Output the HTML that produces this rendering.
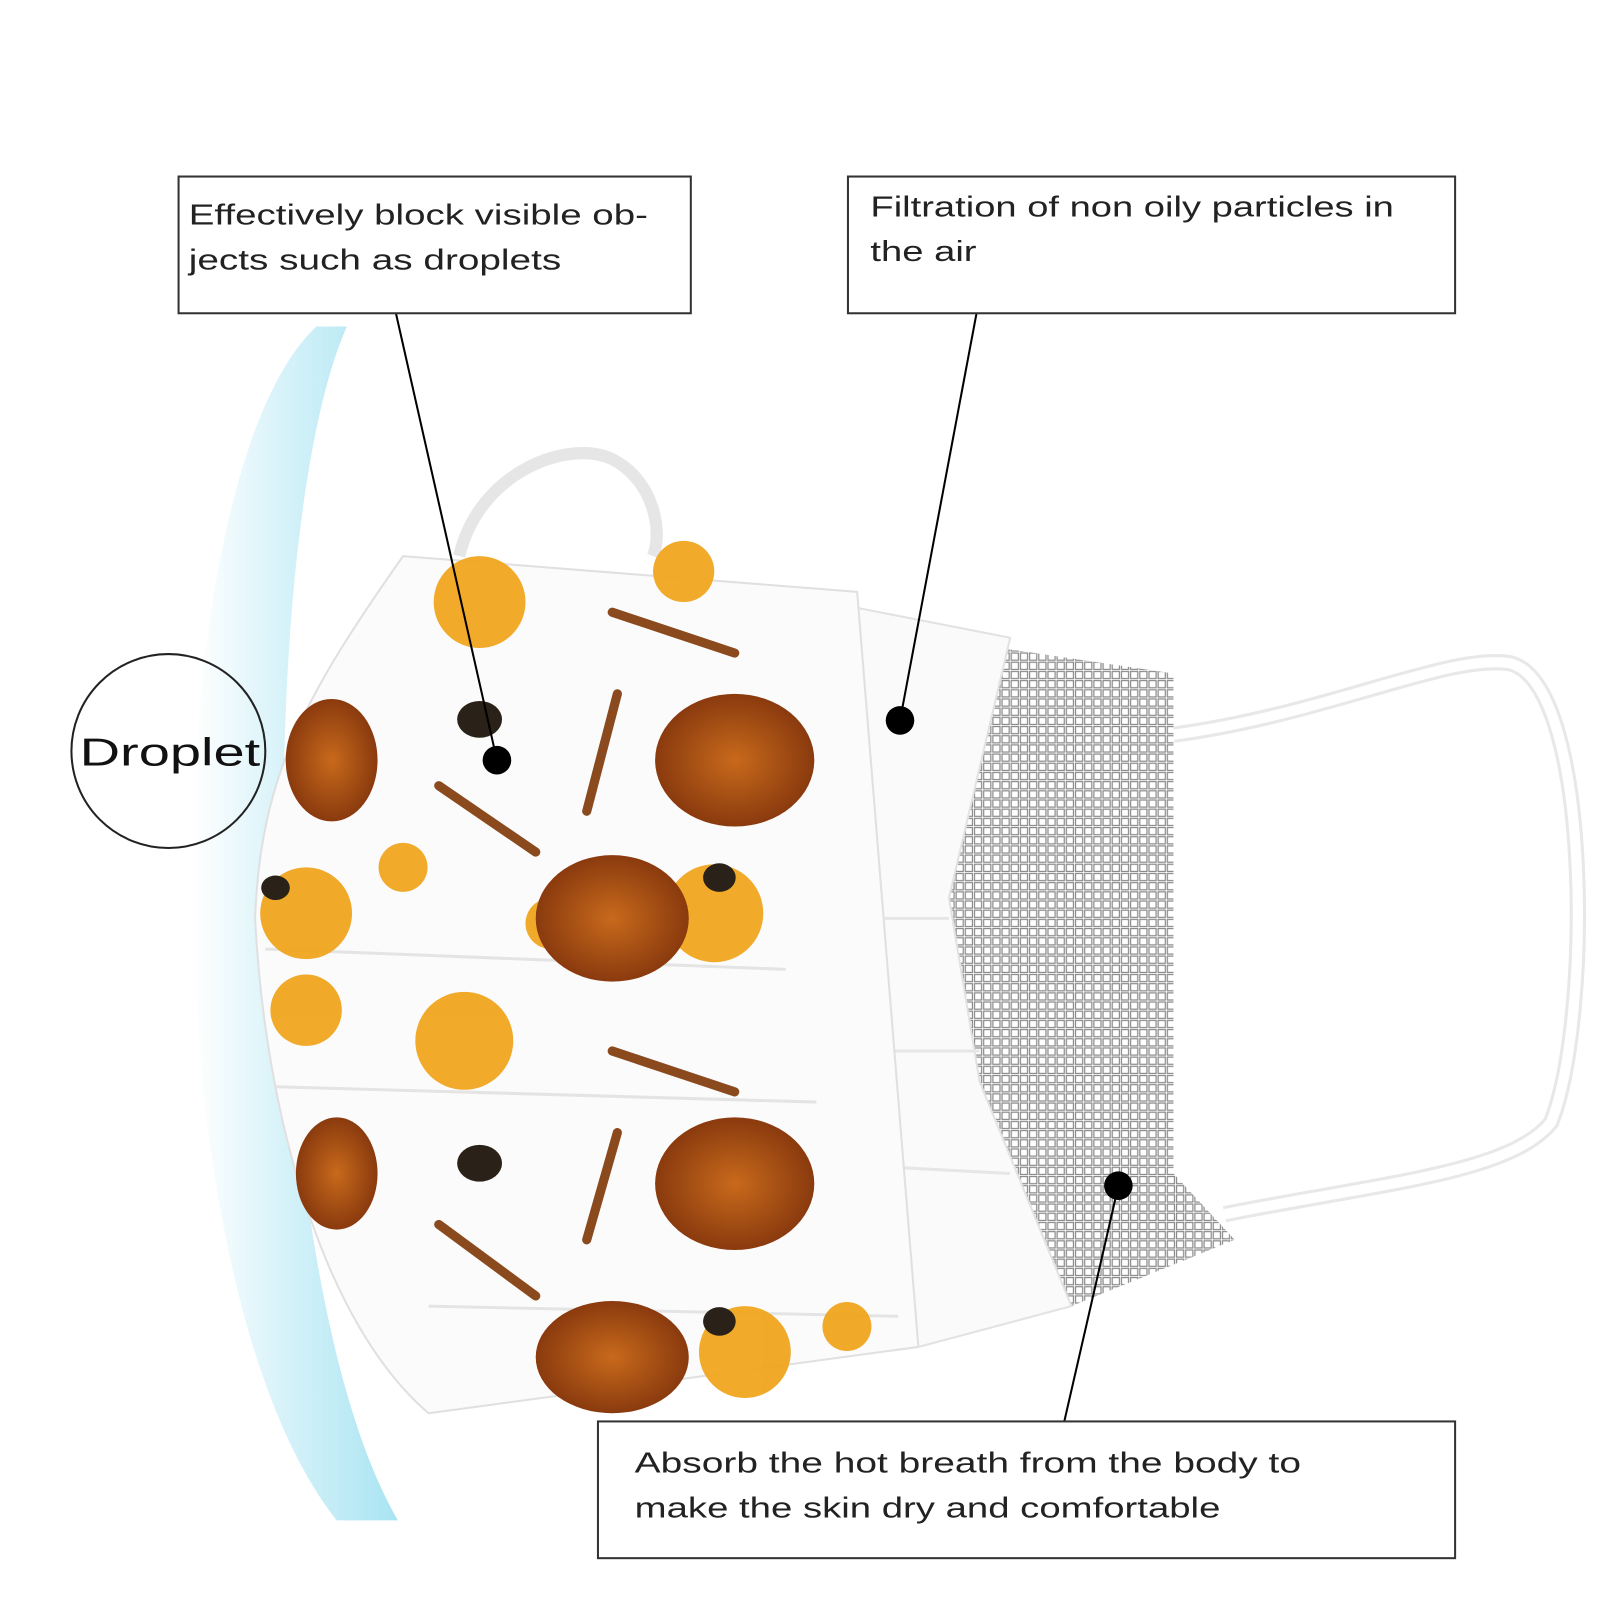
<!DOCTYPE html>
<html><head><meta charset="utf-8"><style>
html,body{margin:0;padding:0;background:#fff;}
svg{display:block;}
text{font-family:"Liberation Sans",sans-serif;}
</style></head><body>
<svg width="1600" height="1600" viewBox="0 0 1568 1568" xmlns="http://www.w3.org/2000/svg">
<defs>
<linearGradient id="blue" x1="0" y1="0" x2="1" y2="0">
<stop offset="0" stop-color="#ffffff"/>
<stop offset="0.45" stop-color="#d6f2f9"/>
<stop offset="1" stop-color="#a9e4f2"/>
</linearGradient>
<pattern id="grid" width="9" height="9" patternUnits="userSpaceOnUse">
<rect width="9" height="9" fill="#fff"/>
<rect x="1" y="1" width="7" height="7" fill="none" stroke="#8a8a8a" stroke-width="1.2"/>
</pattern>
<radialGradient id="honey" cx="0.5" cy="0.5" r="0.5">
<stop offset="0" stop-color="#c86a1c"/><stop offset="1" stop-color="#8a3a0e"/>
</radialGradient>
</defs>
<rect width="1568" height="1568" fill="#fff"/>
<!-- blue face arc -->
<path d="M310,320 C150,470 140,1250 330,1490 L390,1490 C250,1250 250,520 340,320 Z" fill="url(#blue)"/>
<!-- right ear loop -->
<path d="M1150,720 C1300,700 1420,640 1480,650 C1560,670 1560,1000 1520,1100 C1480,1150 1350,1160 1200,1190" fill="none" stroke="#e8e8e8" stroke-width="16"/>
<path d="M1150,720 C1300,700 1420,640 1480,650 C1560,670 1560,1000 1520,1100 C1480,1150 1350,1160 1200,1190" fill="none" stroke="#fff" stroke-width="10"/>
<!-- top ear loop -->
<path d="M450,545 C470,460 560,430 600,450 C640,470 650,520 640,545" fill="none" stroke="#e6e6e6" stroke-width="12"/>
<!-- grid inner panel -->
<path d="M980,635 L1150,660 L1150,1150 L1210,1215 L1050,1280 L960,1060 L930,880 Z" fill="url(#grid)"/>
<!-- white panel -->
<path d="M760,580 L990,625 L930,880 L960,1060 L1050,1280 L900,1320 L780,1300 Z" fill="#fafafa" stroke="#e2e2e2" stroke-width="2"/>
<path d="M800,900 L930,900 M800,1030 L960,1030 M800,1140 L990,1150" stroke="#e6e6e6" stroke-width="3"/>
<!-- patterned mask front -->
<path d="M395,545 L840,580 L900,1320 L420,1385 C320,1300 260,1100 250,900 C255,760 300,680 395,545 Z" fill="#fbfbfb" stroke="#e0e0e0" stroke-width="2"/>
<path d="M260,930 L770,950 M270,1065 L800,1080 M420,1280 L880,1290" stroke="#e4e4e4" stroke-width="3"/>
<g fill="#f0a51e" opacity="0.95">
<circle cx="470" cy="590" r="45"/><circle cx="455" cy="1020" r="48"/><circle cx="300" cy="895" r="45"/><circle cx="700" cy="895" r="48"/><circle cx="730" cy="1325" r="45"/><circle cx="395" cy="850" r="24"/><circle cx="830" cy="1300" r="24"/><circle cx="300" cy="990" r="35"/><circle cx="670" cy="560" r="30"/><circle cx="540" cy="905" r="25"/>
</g>
<g fill="url(#honey)">
<ellipse cx="720" cy="745" rx="78" ry="65"/><ellipse cx="600" cy="900" rx="75" ry="62"/><ellipse cx="720" cy="1160" rx="78" ry="65"/><ellipse cx="600" cy="1330" rx="75" ry="55"/><ellipse cx="325" cy="745" rx="45" ry="60"/><ellipse cx="330" cy="1150" rx="40" ry="55"/>
</g>
<g stroke="#8a4a1e" stroke-width="9" stroke-linecap="round">
<line x1="430" y1="770" x2="525" y2="835"/><line x1="605" y1="680" x2="575" y2="795"/><line x1="600" y1="600" x2="720" y2="640"/><line x1="430" y1="1200" x2="525" y2="1270"/><line x1="605" y1="1110" x2="575" y2="1215"/><line x1="600" y1="1030" x2="720" y2="1070"/>
</g>
<g fill="#2a2218"><ellipse cx="470" cy="705" rx="22" ry="18"/><ellipse cx="470" cy="1140" rx="22" ry="18"/><ellipse cx="270" cy="870" rx="14" ry="12"/><ellipse cx="705" cy="860" rx="16" ry="14"/><ellipse cx="705" cy="1295" rx="16" ry="14"/></g>
<!-- connectors -->
<g stroke="#000" stroke-width="2" fill="none">
<line x1="388" y1="307" x2="487" y2="745"/>
<line x1="957" y1="307" x2="882" y2="706"/>
<line x1="1096" y1="1162" x2="1043" y2="1393"/>
</g>
<circle cx="487" cy="745" r="14" fill="#000"/>
<circle cx="882" cy="706" r="14" fill="#000"/>
<circle cx="1096" cy="1162" r="14" fill="#000"/>
<!-- boxes -->
<g fill="#fff" stroke="#333" stroke-width="2">
<rect x="175" y="173" width="502" height="134"/>
<rect x="831" y="173" width="595" height="134"/>
<rect x="586" y="1393" width="840" height="134"/>
</g>
<g font-size="28" fill="#222">
<text x="185" y="220" textLength="450" lengthAdjust="spacingAndGlyphs">Effectively block visible ob-</text>
<text x="185" y="264" textLength="365" lengthAdjust="spacingAndGlyphs">jects such as droplets</text>
<text x="853" y="212" textLength="513" lengthAdjust="spacingAndGlyphs">Filtration of non oily particles in</text>
<text x="853" y="256" textLength="104" lengthAdjust="spacingAndGlyphs">the air</text>
<text x="622" y="1443" textLength="653" lengthAdjust="spacingAndGlyphs">Absorb the hot breath from the body to</text>
<text x="622" y="1487" textLength="574" lengthAdjust="spacingAndGlyphs">make the skin dry and comfortable</text>
</g>
<circle cx="165" cy="736" r="95" fill="none" stroke="#222" stroke-width="2"/>
<text x="78" y="750" font-size="38" textLength="177" lengthAdjust="spacingAndGlyphs" fill="#111">Droplet</text>
</svg>
</body></html>
